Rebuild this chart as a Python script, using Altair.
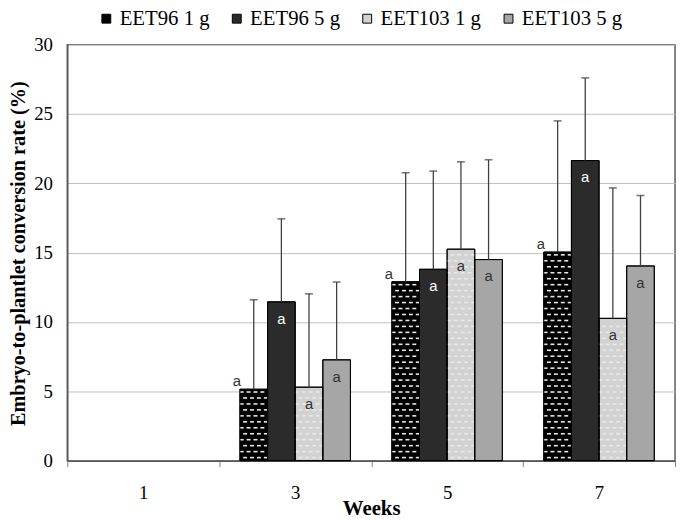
import altair as alt
import pandas as pd

weeks = ["1", "3", "5", "7"]
bar_weeks = ["3", "5", "7"]
series = ["EET96 1 g", "EET96 5 g", "EET103 1 g", "EET103 5 g"]
colors = ["#000000", "#2b2b2b", "#d2d2d2", "#a6a6a6"]

# mean values (weeks 3, 5, 7); week 1 has no conversion
eet96_1g = [5.15, 12.9, 15.04]
eet96_5g = [11.45, 13.8, 21.64]
eet103_1g = [5.3, 15.25, 10.26]
eet103_5g = [7.27, 14.5, 14.04]
# upper ends of the error bars
eet96_1g_up = [11.6, 20.76, 24.5]
eet96_5g_up = [17.44, 20.88, 27.6]
eet103_1g_up = [12.03, 21.55, 19.67]
eet103_5g_up = [12.88, 21.7, 19.12]
# significance letters
eet96_1g_lt = ["a", "a", "a"]
eet96_5g_lt = ["a", "a", "a"]
eet103_1g_lt = ["a", "a", "a"]
eet103_5g_lt = ["a", "a", "a"]

vals = [eet96_1g, eet96_5g, eet103_1g, eet103_5g]
ups = [eet96_1g_up, eet96_5g_up, eet103_1g_up, eet103_5g_up]
lts = [eet96_1g_lt, eet96_5g_lt, eet103_1g_lt, eet103_5g_lt]

rows = []
for si, s in enumerate(series):
    for wi, w in enumerate(bar_weeks):
        rows.append({"week": w, "series": s, "value": vals[si][wi],
                     "upper": ups[si][wi], "letter": lts[si][wi], "si": si})
df = pd.DataFrame(rows)

# hatch decoration (white dashes) for the patterned series
# 44 sub-slots per week: 6 empty, 4 bars x 8, 6 empty
dash_rows = []
for si in (0, 2):
    for wi, w in enumerate(bar_weeks):
        v = vals[si][wi]
        i = 0
        while True:
            yv = 0.22 + 0.43 * i
            if yv > v - 0.2:
                break
            slots = (1, 3, 5, 7) if i % 2 == 0 else (0, 2, 4, 6)
            for k in slots:
                dash_rows.append({"week": w, "slot": 6 + si * 8 + k, "y": yv})
            i += 1
ddf = pd.DataFrame(dash_rows)

serif = "Liberation Serif"
xscale = alt.Scale(type="band", domain=weeks, paddingInner=0, paddingOuter=0)
offscale = alt.Scale(type="band", domain=series, paddingInner=0, paddingOuter=0.75)
yscale = alt.Scale(domain=[0, 30], nice=False)

X = alt.X("week:N", scale=xscale, sort=weeks,
          axis=alt.Axis(title="Weeks", tickBand="extent", labelAngle=0,
                        labelFont=serif, labelFontSize=19, labelColor="black",
                        labelPadding=17, tickSize=6, tickColor="#808080",
                        domainColor="#595959", domainWidth=1.5,
                        titleFont=serif, titleFontSize=21, titleFontWeight="bold",
                        titleColor="black", titleY=38, grid=False))
Y = alt.Y("value:Q", scale=yscale,
          axis=alt.Axis(title="Embryo-to-plantlet conversion rate (%)",
                        values=[0, 5, 10, 15, 20, 25, 30], tickSize=0,
                        labelFont=serif, labelFontSize=19, labelColor="black",
                        labelPadding=15, gridColor="#bfbfbf", gridWidth=1,
                        domainColor="#595959", domainWidth=1.5,
                        titleFont=serif, titleFontSize=20.5, titleFontWeight="bold",
                        titleColor="black", titleX=-39, titleY=211))
XO = alt.XOffset("series:N", scale=offscale, sort=series)
Xs = alt.X("week:N", scale=xscale, sort=weeks)
Ys = alt.Y("value:Q", scale=yscale)

base = alt.Chart(df)

bars = base.mark_bar(stroke="#000000", strokeWidth=1).encode(
    x=X, xOffset=XO, y=Y,
    color=alt.Color("series:N", title=None, sort=series,
                    scale=alt.Scale(domain=series, range=colors),
                    legend=alt.Legend(orient="none", legendX=29, legendY=-37,
                                      direction="horizontal", columns=4,
                                      columnPadding=17, symbolType="square",
                                      symbolSize=81, symbolStrokeColor="#000000",
                                      symbolStrokeWidth=1, labelFont=serif,
                                      labelFontSize=21, labelColor="black",
                                      labelOffset=3)),
)

dashes = alt.Chart(ddf).mark_tick(orient="horizontal", size=4, thickness=1.6,
                                  color="#e8e8e8", opacity=1).encode(
    x=Xs,
    xOffset=alt.XOffset("slot:O", scale=alt.Scale(type="band", domain=list(range(44)),
                                                  paddingInner=0, paddingOuter=0)),
    y=alt.Y("y:Q", scale=yscale),
)

outline = base.mark_bar(stroke="#000000", strokeWidth=1, filled=False).encode(
    x=Xs, xOffset=XO, y=Ys,
)

err = base.mark_rule(color="#404040", strokeWidth=1.3).encode(
    x=Xs, xOffset=XO, y=Ys, y2="upper:Q",
)

caps = base.mark_tick(orient="horizontal", size=8, thickness=1.6, color="#404040").encode(
    x=Xs, xOffset=XO, y=alt.Y("upper:Q", scale=yscale),
)

lab_font = "Liberation Sans"
lab_out = base.transform_filter(alt.datum.si == 0).mark_text(
    font=lab_font, fontSize=15, color="#333333", dx=-17, dy=-8, baseline="middle"
).encode(x=Xs, xOffset=XO, y=Ys, text="letter:N")

lab_white = base.transform_filter(alt.datum.si == 1).mark_text(
    font=lab_font, fontSize=15, color="#ffffff", dy=17, baseline="middle"
).encode(x=Xs, xOffset=XO, y=Ys, text="letter:N")

lab_dark = base.transform_filter(alt.datum.si >= 2).mark_text(
    font=lab_font, fontSize=15, color="#333333", dy=17, baseline="middle"
).encode(x=Xs, xOffset=XO, y=Ys, text="letter:N")

chart = alt.layer(bars, dashes, outline, err, caps, lab_out, lab_white, lab_dark).resolve_scale(
    xOffset="independent"
).properties(
    width=615, height=421,
    padding={"left": 60, "top": 34, "right": 2, "bottom": 58},
    autosize=alt.AutoSizeParams(type="none"),
).configure_view(
    stroke="#595959", strokeWidth=1.5
).configure_legend(
    labelFont=serif, labelFontSize=21, labelColor="black"
)

chart.save("out.html", embed_options={"renderer": "svg", "actions": False})
